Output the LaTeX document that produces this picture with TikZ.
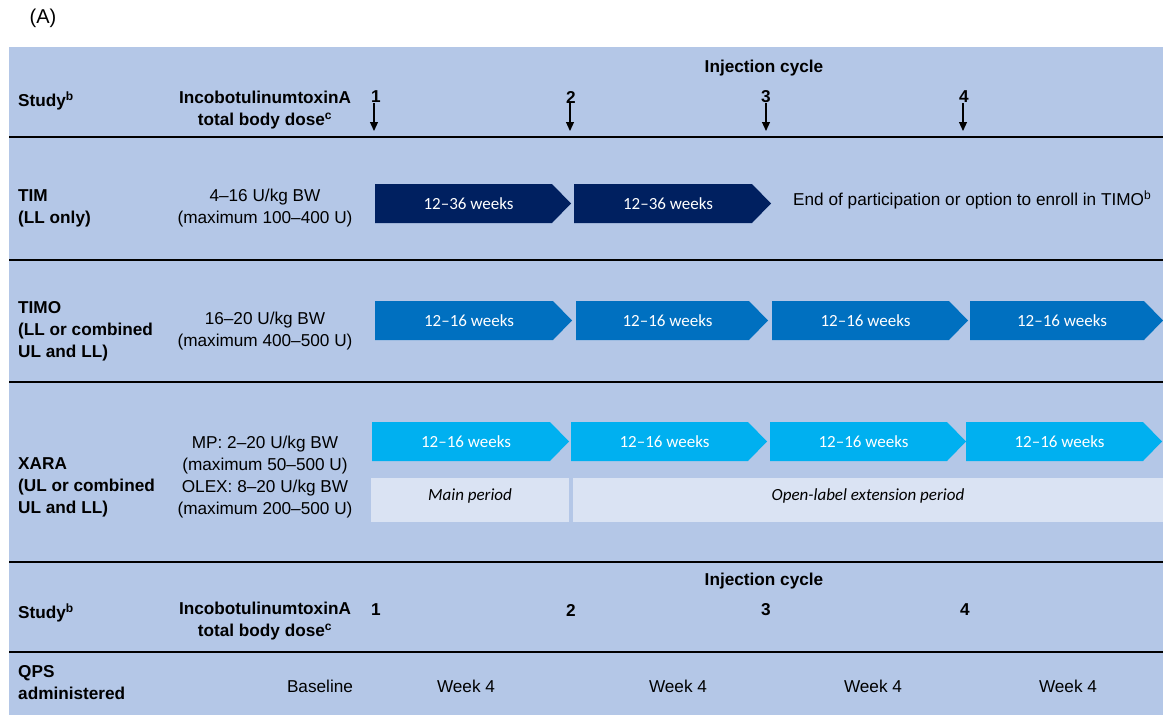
\documentclass[tikz,border=0pt]{standalone}
\usepackage{fontspec}
\setmainfont{Liberation Sans}
\newfontfamily\calib[Ligatures=TeX]{Carlito}
\usetikzlibrary{arrows.meta}
\definecolor{bgblue}{HTML}{B4C7E7}
\definecolor{navy}{HTML}{002060}
\definecolor{midblue}{HTML}{0070C0}
\definecolor{cyanblue}{HTML}{00B0F0}
\definecolor{palebox}{HTML}{DAE3F3}
\tikzset{
  txt/.style={font=\fontsize{17.2}{22}\selectfont, inner sep=0pt, align=center},
  btxt/.style={font=\fontsize{17.2}{22}\selectfont\bfseries, inner sep=0pt, align=center},
  ltxt/.style={btxt, align=left, anchor=west},
  chevtxt/.style={font=\calib\fontsize{17}{20}\selectfont, text=white, inner sep=0pt},
  boxtxt/.style={font=\calib\itshape\fontsize{17}{20}\selectfont, inner sep=0pt},
  sep/.style={line width=1.6pt},
  cyclearrow/.style={line width=1.2pt, -{Triangle[width=8pt,length=9pt]}}
}
\newcommand\chev[6]{%
  \fill[#5] (#2,#4) -- ({#3-19},#4) -- (#3,{#4+19.5}) -- ({#3-19},{#4+39}) -- (#2,{#4+39}) -- cycle;
  \node[chevtxt] (#1) at ({(#2+#3-9)/2},{#4+19.5}) {#6};
}
\begin{document}
\begin{tikzpicture}[x=1pt,y=-1pt]
\useasboundingbox (0,0) rectangle (1163,715);
\fill[bgblue] (9,47) rectangle (1163,715);
\node[inner sep=0pt, font=\fontsize{20}{24}\selectfont] (A) at (43,18) {(A)};

% header
\node[btxt] (ic1) at (764,68) {Injection cycle};
\node[ltxt] (study1) at (18,101) {Study\textsuperscript{b}};
\node[btxt] (dose1) at (265,110) {IncobotulinumtoxinA\\total body dose\textsuperscript{c}};
\node[btxt] (n1) at (376,97) {1};
\node[btxt] (n2) at (571,97) {2};
\node[btxt] (n3) at (766,97) {3};
\node[btxt] (n4) at (964,97) {4};
\foreach \n/\x in {1/374,2/570,3/766,4/963}{
  \coordinate (t\n) at (\x,131);
  \draw[cyclearrow] (\x,103) -- (t\n);
}
\draw[sep] (9,137) -- (1163,137);

% TIM
\node[ltxt] (tim) at (18,208) {TIM\\(LL only)};
\node[txt] (timdose) at (265,208) {4–16 U/kg BW\\(maximum 100–400 U)};
\chev{tim1}{375}{571}{184}{navy}{12–36 weeks}
\chev{tim2}{574}{771}{184}{navy}{12–36 weeks}
\node[txt, anchor=west] (timend) at (793,200) {End of participation or option to enroll in TIMO\textsuperscript{b}};
\draw[sep] (9,260) -- (1163,260);

% TIMO
\node[ltxt] (timo) at (18,331) {TIMO\\(LL or combined\\UL and LL)};
\node[txt] (timodose) at (265,331) {16–20 U/kg BW\\(maximum 400–500 U)};
\chev{timo1}{375}{572}{301}{midblue}{12–16 weeks}
\chev{timo2}{576}{768}{301}{midblue}{12–16 weeks}
\chev{timo3}{772}{968}{301}{midblue}{12–16 weeks}
\chev{timo4}{970}{1163}{301}{midblue}{12–16 weeks}
\draw[sep] (9,382) -- (1163,382);

% XARA
\node[ltxt] (xara) at (18,487) {XARA\\(UL or combined\\UL and LL)};
\node[txt] (xaradose) at (265,477) {MP: 2–20 U/kg BW\\(maximum 50–500 U)\\OLEX: 8–20 U/kg BW\\(maximum 200–500 U)};
\chev{xara1}{372}{569}{422}{cyanblue}{12–16 weeks}
\chev{xara2}{571}{767}{422}{cyanblue}{12–16 weeks}
\chev{xara3}{770}{966}{422}{cyanblue}{12–16 weeks}
\chev{xara4}{966}{1162}{422}{cyanblue}{12–16 weeks}
\fill[palebox] (371,478) rectangle (569,522);
\fill[palebox] (573,478) rectangle (1163,522);
\node[boxtxt] (mainp) at (470,496) {Main period};
\node[boxtxt] (olex) at (868,496) {Open-label extension period};
\draw[sep] (9,562) -- (1163,562);

% lower header
\node[btxt] (ic2) at (764,581) {Injection cycle};
\node[ltxt] (study2) at (18,613) {Study\textsuperscript{b}};
\node[btxt] (dose2) at (265,621) {IncobotulinumtoxinA\\total body dose\textsuperscript{c}};
\node[btxt] (m1) at (376,610) {1};
\node[btxt] (m2) at (571,610) {2};
\node[btxt] (m3) at (766,610) {3};
\node[btxt] (m4) at (965,610) {4};
\draw[line width=2.6pt] (9,652) -- (1163,652);

% QPS
\node[ltxt] (qps) at (18,683) {QPS\\administered};
\node[txt] (base) at (320,686) {Baseline};
\node[txt] (w1) at (466,686) {Week 4};
\node[txt] (w2) at (678,686) {Week 4};
\node[txt] (w3) at (873,686) {Week 4};
\node[txt] (w4) at (1068,686) {Week 4};
\end{tikzpicture}
\end{document}
